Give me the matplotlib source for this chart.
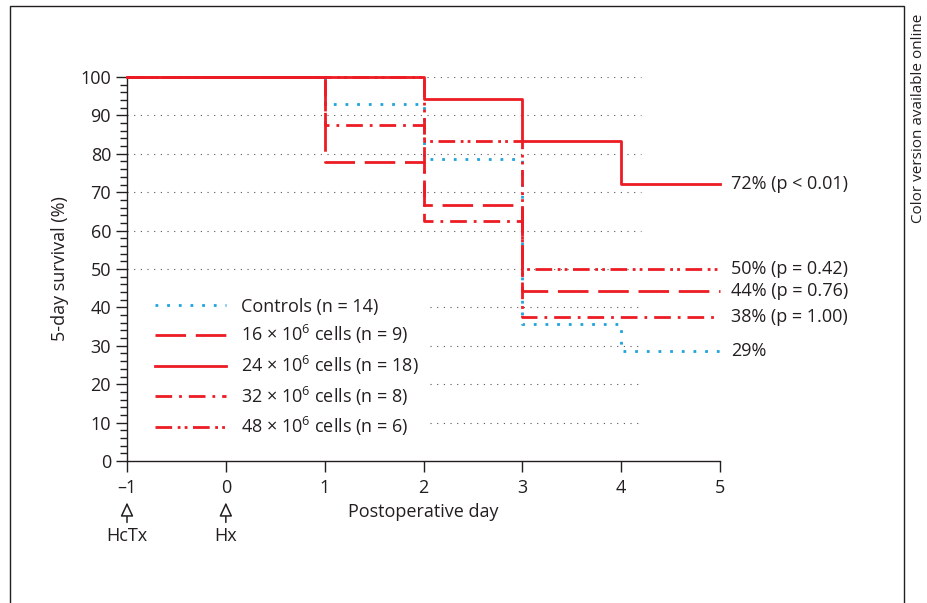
import matplotlib
matplotlib.use('Agg')
import matplotlib.pyplot as plt
from matplotlib.patches import Rectangle

plt.rcParams['font.family'] = ['Open Sans', 'DejaVu Sans']
plt.rcParams['mathtext.fontset'] = 'custom'
plt.rcParams['mathtext.rm'] = 'Open Sans'

# 数据 (Kaplan-Meier 生存率, %)
days = [-1, 1, 2, 3, 4, 5]
controls = [100, 92.9, 78.6, 35.7, 28.6, 28.6]
cells16 = [100, 77.8, 66.7, 44.4, 44.4, 44.4]
cells24 = [100, 100, 94.4, 83.3, 72.2, 72.2]
cells32 = [100, 87.5, 62.5, 37.5, 37.5, 37.5]
cells48 = [100, 100, 83.3, 50.0, 50.0, 50.0]

labels = ['Controls (n = 14)',
          '16 × 10$^{6}$ cells (n = 9)',
          '24 × 10$^{6}$ cells (n = 18)',
          '32 × 10$^{6}$ cells (n = 8)',
          '48 × 10$^{6}$ cells (n = 6)']

end_labels = ['29%', '44% (p = 0.76)', '72% (p < 0.01)', '38% (p = 1.00)', '50% (p = 0.42)']

xticks = [-1, 0, 1, 2, 3, 4, 5]
yticks = [0, 10, 20, 30, 40, 50, 60, 70, 80, 90, 100]

RED = '#ED1C24'
BLUE = '#1FA3DC'
DARK = '#231F20'
FS = 13

fig = plt.figure(figsize=(9.27, 6.03), dpi=100)
ax = fig.add_axes([127/927, 1 - 461/603, 593/927, 384/603])

# 网格 (点线)
for y in yticks[1:]:
    x0 = -1 if y >= 50 else 2.07
    ax.plot([x0, 4.2], [y, y], color='#555555', lw=0.8, ls=(0, (1, 5)), zorder=1)

styles = [
    dict(color=BLUE, lw=2, ls=(0, (1, 3.2))),
    dict(color=RED, lw=2, ls=(0, (11, 3.5))),
    dict(color=RED, lw=2, ls='-'),
    dict(color=RED, lw=2, ls=(0, (6, 2.5, 1, 2.5))),
    dict(color=RED, lw=2, ls=(0, (6, 2, 1, 1.5, 1, 2))),
]
series = [controls, cells16, cells24, cells32, cells48]

handles = []
for s, st, lab in zip(series, styles, labels):
    h, = ax.plot(days, s, drawstyle='steps-post', clip_on=False, zorder=3, label=lab, **st)
    handles.append(h)

for s, lab in zip(series, end_labels):
    ax.text(5.11, s[-1], lab, fontsize=FS, color=DARK, va='center', ha='left')

ax.legend(handles=handles, loc='upper left', bbox_to_anchor=(0.02, 0.468),
          frameon=False, fontsize=FS, handlelength=3.9, handletextpad=0.85,
          labelspacing=0.42, labelcolor=DARK)

ax.set_xlim(-1, 5)
ax.set_ylim(0, 100)
ax.set_xticks(xticks)
ax.set_xticklabels(['–1', '0', '1', '2', '3', '4', '5'])
ax.set_yticks(yticks)
ax.set_yticks(range(0, 101, 2), minor=True)
ax.tick_params(axis='both', which='major', length=8, width=1, color=DARK,
               labelsize=FS, labelcolor=DARK)
ax.tick_params(axis='y', which='minor', length=5, width=1, color=DARK)
ax.tick_params(axis='x', pad=5)
for side in ['top', 'right']:
    ax.spines[side].set_visible(False)
for side in ['left', 'bottom']:
    ax.spines[side].set_color(DARK)
    ax.spines[side].set_linewidth(1)

ax.set_xlabel('Postoperative day', fontsize=FS, color=DARK, labelpad=4)
ax.set_ylabel('5-day survival (%)', fontsize=FS, color=DARK)
ax.yaxis.set_label_coords(-0.098, 0.5)

# 箭头与手术标注
for x, txt in [(-1, 'HcTx'), (0, 'Hx')]:
    ax.annotate('', xy=(x, -10.8), xytext=(x, -16.0), annotation_clip=False,
                arrowprops=dict(arrowstyle='-|>,head_length=0.6,head_width=0.28',
                                fc='white', ec=DARK, lw=1.1, shrinkA=0, shrinkB=0,
                                mutation_scale=14))
    ax.text(x, -19.6, txt, fontsize=FS, color=DARK, ha='center', va='center')

fig.add_artist(Rectangle((10/927, -0.02), 894/927, 1 - 6/603 + 0.02,
                         transform=fig.transFigure, fill=False, ec=DARK, lw=1))
fig.text(918/927, 1 - 14/603, 'Color version available online', rotation=90,
         fontsize=11, color=DARK, ha='center', va='top')

plt.savefig('out.png', dpi=100)
